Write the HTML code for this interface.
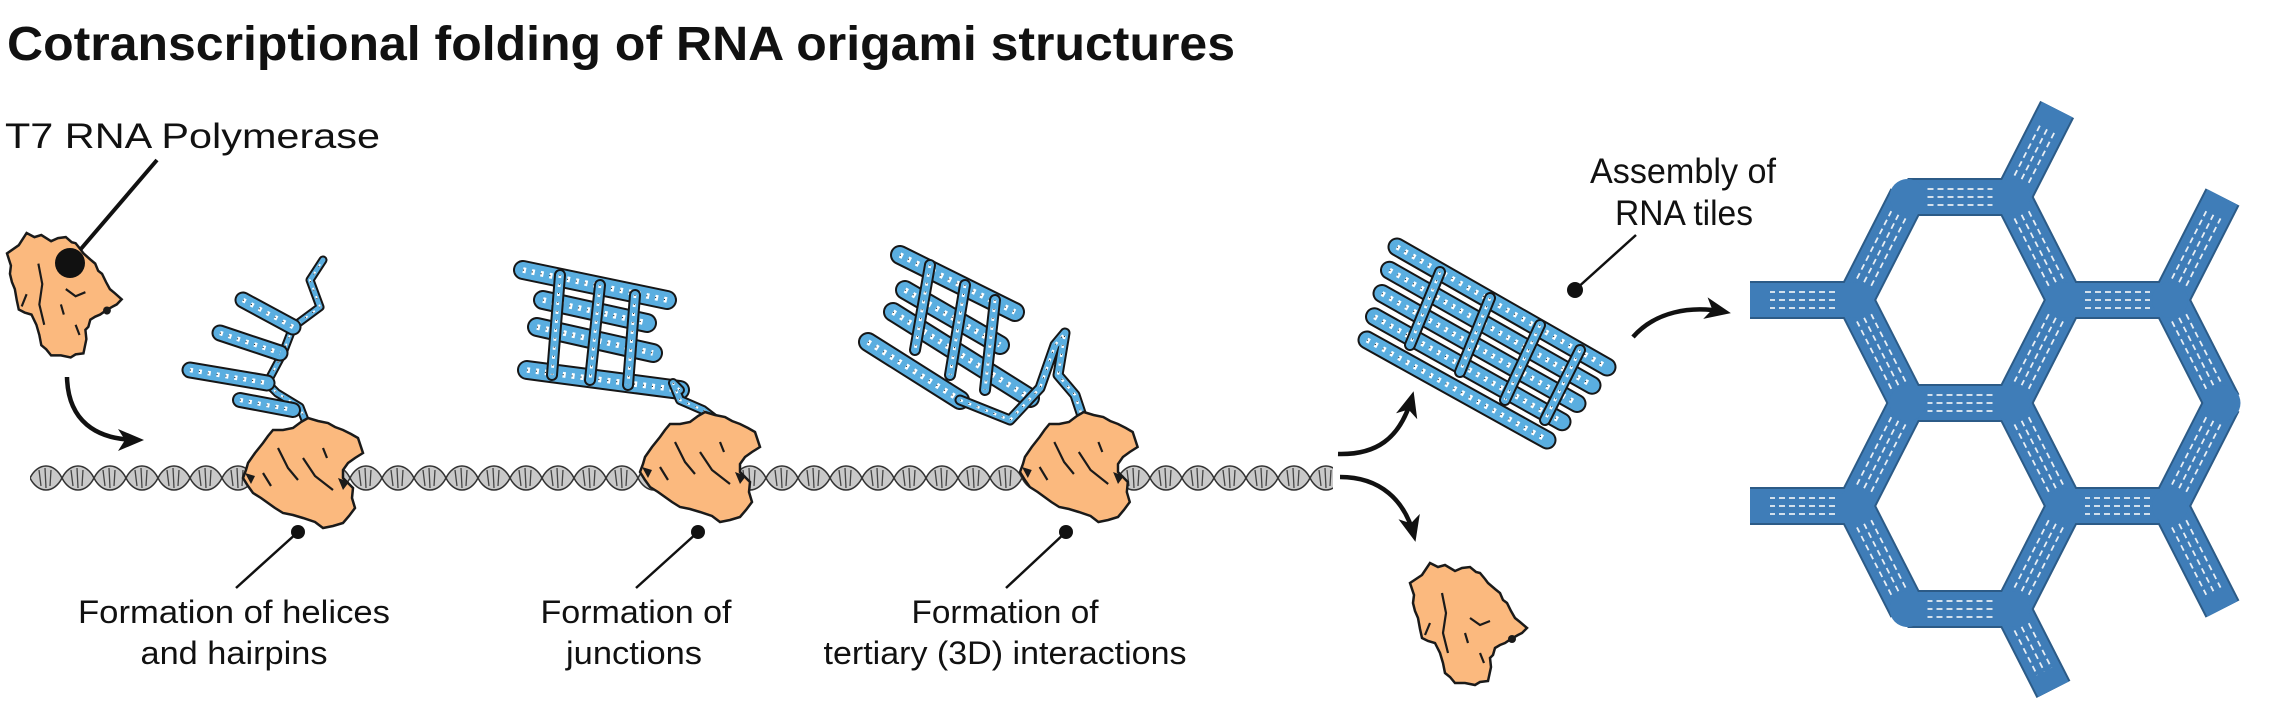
<!DOCTYPE html>
<html><head><meta charset="utf-8"><style>
html,body{margin:0;padding:0;background:#fff;}
svg{display:block;}
text{font-family:"Liberation Sans",Arial,sans-serif;fill:#111;}
</style></head><body>
<svg id="s" width="2296" height="707" viewBox="0 0 2296 707" xmlns="http://www.w3.org/2000/svg">
<defs>
<pattern id="dna" x="30" y="463" width="32" height="30" patternUnits="userSpaceOnUse">
<path d="M0,15 C8,-1 24,-1 32,15 C24,31 8,31 0,15Z" fill="#c9c9c9" stroke="#333" stroke-width="1.5"/>
<path d="M9,7 L11,23 M15,5 L16,25 M21,7 L20,23" stroke="#444" stroke-width="1.3"/>
</pattern>
<marker id="ah" markerWidth="28" markerHeight="22" refX="20" refY="11" orient="auto" markerUnits="userSpaceOnUse">
<path d="M0,0 L26,11 L0,22 L7,11 Z" fill="#111"/>
</marker>
<g id="blobA">
<path d="M20,0 L28,4 L35,2 L45,8 L52,5 L60,4 L66,9 L70,10 L75,16 L78,20 L85,26 L90,30 L93,37 L97,40 L101,48 L105,55 L110,59 L117,65 L112,70 L108,72 L101,76 L95,80 L90,82 L85,85 L83,92 L80,95 L81,104 L78,118 L70,119 L65,122 L55,120 L45,120 L40,114 L35,110 L33,100 L30,90 L27,84 L25,80 L18,78 L12,75 L10,66 L8,55 L5,48 L3,40 L4,32 L0,20 L6,16 L12,12 Z" fill="#fbb97e" stroke="#1a1a1a" stroke-width="2.5"/>
<path d="M32,30 L36,50 L33,70 L38,90 M60,55 L70,62 L80,58 M55,70 L58,80 M20,60 L15,72 M70,90 L74,100" stroke="#1a1a1a" stroke-width="2.2" fill="none"/>
<circle cx="102" cy="76" r="4" fill="#1a1a1a"/>
</g>
<g id="blobB">
<path d="M5,45 L12,35 L20,25 L25,18 L30,12 L40,12 L50,10 L58,4 L65,0 L75,3 L85,5 L92,9 L100,12 L108,16 L115,20 L120,35 L112,40 L105,45 L100,52 L100,60 L106,66 L110,70 L109,80 L112,90 L106,98 L100,105 L90,108 L80,110 L72,104 L60,100 L50,97 L40,95 L32,90 L25,85 L18,80 L10,75 L5,68 L0,60 L3,52 Z" fill="#fbb97e" stroke="#1a1a1a" stroke-width="2.5"/>
<path d="M35,30 L45,50 L55,62 M60,40 L72,58 L90,72 M20,55 L28,68 M80,30 L84,40" stroke="#1a1a1a" stroke-width="2.2" fill="none"/>
<path d="M2,55 L12,58 L8,66 Z M95,60 L106,64 L100,72 Z" fill="#1a1a1a"/>
</g>
</defs>

<text x="7" y="60" font-size="48" font-weight="bold" textLength="1228" lengthAdjust="spacingAndGlyphs">Cotranscriptional folding of RNA origami structures</text>
<text x="5" y="148" font-size="35" textLength="375" lengthAdjust="spacingAndGlyphs">T7 RNA Polymerase</text>

<rect x="30" y="463" width="1303" height="30" fill="url(#dna)"/>

<g id="rna"></g>

<use href="#blobA" transform="translate(7,233) scale(0.98,1.02)"/>
<use href="#blobB" transform="translate(243,418)"/>
<use href="#blobB" transform="translate(640,412)"/>
<use href="#blobB" transform="translate(1020,412) scale(0.98,1.0)"/>
<use href="#blobA" transform="translate(1410,563)"/>

<g id="rnaTop"></g>

<line x1="157" y1="160" x2="80" y2="250" stroke="#111" stroke-width="4"/>
<circle cx="70" cy="263" r="15" fill="#111"/>
<g stroke="#111" stroke-width="2.5">
<line x1="298" y1="532" x2="236" y2="588"/>
<line x1="698" y1="532" x2="636" y2="588"/>
<line x1="1066" y1="532" x2="1006" y2="588"/>
<line x1="1636" y1="235" x2="1575" y2="290"/>
</g>
<g fill="#111">
<circle cx="298" cy="532" r="7"/>
<circle cx="698" cy="532" r="7"/>
<circle cx="1066" cy="532" r="7"/>
<circle cx="1575" cy="290" r="8"/>
</g>

<g fill="none" stroke="#111" stroke-width="4.5" marker-end="url(#ah)">
<path d="M67,377 C68,420 95,440 138,440"/>
<path d="M1338,454 C1375,455 1400,440 1412,397"/>
<path d="M1340,477 C1380,477 1405,500 1414,536"/>
<path d="M1633,337 C1655,312 1690,305 1725,312"/>
</g>

<g font-size="32" text-anchor="middle">
<text x="234" y="623" textLength="312" lengthAdjust="spacingAndGlyphs">Formation of helices</text>
<text x="234" y="664" textLength="187" lengthAdjust="spacingAndGlyphs">and hairpins</text>
<text x="636" y="623" textLength="191" lengthAdjust="spacingAndGlyphs">Formation of</text>
<text x="634" y="664" textLength="136" lengthAdjust="spacingAndGlyphs">junctions</text>
<text x="1005" y="623" textLength="187" lengthAdjust="spacingAndGlyphs">Formation of</text>
<text x="1005" y="664" textLength="363" lengthAdjust="spacingAndGlyphs">tertiary (3D) interactions</text>
</g>
<g font-size="35" text-anchor="middle">
<text x="1683" y="183" textLength="186" lengthAdjust="spacingAndGlyphs">Assembly of</text>
<text x="1684" y="225" textLength="138" lengthAdjust="spacingAndGlyphs">RNA tiles</text>
</g>

<g id="lattice"></g>
</svg>
<script>
var NS="http://www.w3.org/2000/svg";
function el(p,tag,a){var e=document.createElementNS(NS,tag);for(var k in a)e.setAttribute(k,a[k]);p.appendChild(e);return e;}
function ribbon(p,d,w){
 el(p,"path",{d:d,fill:"none",stroke:"#161616","stroke-width":w+4,"stroke-linejoin":"round","stroke-linecap":"round"});
 el(p,"path",{d:d,fill:"none",stroke:"#5aaee0","stroke-width":w,"stroke-linejoin":"round","stroke-linecap":"round"});
 el(p,"path",{d:d,fill:"none",stroke:"#fff","stroke-width":w*0.35,"stroke-dasharray":"3 6"});
 el(p,"path",{d:d,fill:"none",stroke:"#111","stroke-width":1,"stroke-dasharray":"1 8"});
}
var r=document.getElementById("rna");
ribbon(r,"M313,467 L310,433 L300,407 L277,393 L267,383 L283,353 L293,327 L320,307 L310,280 L323,260",5);
ribbon(r,"M243,300 L293,327",13);
ribbon(r,"M220,333 L280,353",13);
ribbon(r,"M190,370 L267,383",13);
ribbon(r,"M240,400 L293,410",12);
[[523,270,667,300],[543,300,647,323],[537,327,653,353],[527,370,680,390]].forEach(function(q){ribbon(r,"M"+q[0]+","+q[1]+" L"+q[2]+","+q[3],16);});
ribbon(r,"M560,275 L552,375 M600,285 L590,380 M635,295 L628,385",8);
ribbon(r,"M680,390 L673,383 L680,400 L703,410 L720,423 L722,437 L713,447 L710,455",6);
[[900,255,1015,312],[905,290,1000,345],[893,312,1030,398],[868,342,960,400]].forEach(function(q){ribbon(r,"M"+q[0]+","+q[1]+" L"+q[2]+","+q[3],16);});
ribbon(r,"M930,265 L915,350 M965,285 L950,375 M995,300 L985,390",8);
ribbon(r,"M960,400 L1010,420 L1040,388 L1055,345 L1065,333 L1058,375 L1075,395 L1090,440 L1095,462",7);
var rt=document.getElementById("rnaTop");
for(var i=0;i<5;i++){var t=i/4;var x1=1397-30*t,y1=247+93*t,x2=1607-60*t,y2=367+73*t;ribbon(rt,"M"+x1+","+y1+" L"+x2+","+y2,15);}
ribbon(rt,"M1440,272 L1410,345 M1490,298 L1460,372 M1540,325 L1505,400 M1580,350 L1545,420",8);

var L=document.getElementById("lattice");
var R=105,h=103;
function hexV(cx,cy){return [[cx-R,cy],[cx-R/2,cy-h],[cx+R/2,cy-h],[cx+R,cy],[cx+R/2,cy+h],[cx-R/2,cy+h]];}
var H1=hexV(1960,300),H2=hexV(1960,506),H3=hexV(2117.5,403);
var segs=[];
[H1,H2,H3].forEach(function(H){for(var i=0;i<6;i++){var a=H[i],b=H[(i+1)%6];segs.push([a[0],a[1],b[0],b[1]]);}});
segs.push([H1[0][0],H1[0][1],H1[0][0]-R,H1[0][1]]);
segs.push([H2[0][0],H2[0][1],H2[0][0]-R,H2[0][1]]);
segs.push([H1[2][0],H1[2][1],H1[2][0]+R/2*0.85,H1[2][1]-h*0.85]);
segs.push([H3[2][0],H3[2][1],H3[2][0]+R/2,H3[2][1]-h]);
segs.push([H3[4][0],H3[4][1],H3[4][0]+R/2,H3[4][1]+h]);
segs.push([H2[4][0],H2[4][1],H2[4][0]+R/2*0.78,H2[4][1]+h*0.78]);
var seen={},verts=[];
var gOut=el(L,"g",{}),gIn=el(L,"g",{}),gJ=el(L,"g",{}),gD=el(L,"g",{});
segs.forEach(function(s){
 var key=[Math.round(Math.min(s[0],s[2])),Math.round(Math.min(s[1],s[3])),Math.round(Math.max(s[0],s[2])),Math.round(Math.max(s[1],s[3]))].join(",");
 if(seen[key])return;seen[key]=1;
 verts.push([s[0],s[1]]);
 var dx=s[2]-s[0],dy=s[3]-s[1],l=Math.sqrt(dx*dx+dy*dy),ux=dx/l,uy=dy/l,nx=-uy,ny=ux;
 var x1=s[0],y1=s[1],x2=s[2],y2=s[3];
 el(gOut,"line",{x1:x1,y1:y1,x2:x2,y2:y2,stroke:"#2c5b87","stroke-width":38});
 el(gIn,"line",{x1:x1,y1:y1,x2:x2,y2:y2,stroke:"#3f7db8","stroke-width":34});
 [-8,0,8].forEach(function(o){el(gD,"line",{x1:x1+ux*20+nx*o,y1:y1+uy*20+ny*o,x2:x2-ux*20+nx*o,y2:y2-uy*20+ny*o,stroke:"#e8eef4","stroke-width":1.8,"stroke-dasharray":"6 4"});});
});
[H1,H2,H3].forEach(function(H){H.forEach(function(v){el(gJ,"circle",{cx:v[0],cy:v[1],r:18,fill:"#3f7db8"});});});
</script>
</body></html>
